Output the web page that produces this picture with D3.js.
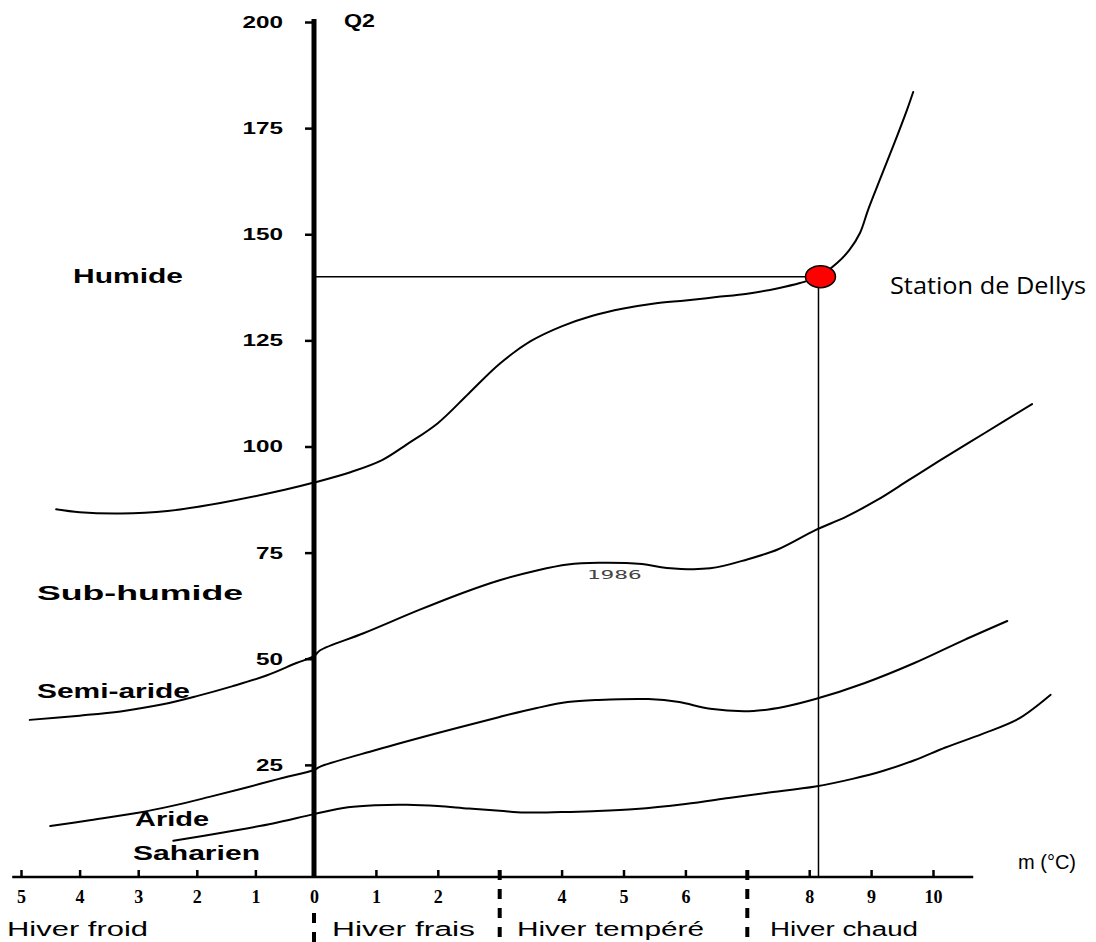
<!DOCTYPE html>
<html>
<head>
<meta charset="utf-8">
<script src="https://cdn.jsdelivr.net/npm/d3@7"></script>
<style>
  html, body { margin: 0; padding: 0; background: #fff; }
  svg { display: block; }
</style>
</head>
<body>
<svg id="chart" width="1096" height="942"></svg>
<script>
// ---------------- DATA ----------------
// Emberger climagram: Q2 (pluviothermic quotient) vs m (°C, mean min of coldest month)
const qTicks = [25, 50, 75, 100, 125, 150, 175, 200];
const mTicks = [-5, -4, -3, -2, -1, 0, 1, 2, 4, 5, 6, 8, 9, 10];
const winterBounds = [0, 3, 7];

// Boundary curves [m, Q2]
const humideLimit = [[-4.4,85.2],[-4,84.5],[-3.3,84.2],[-2.5,84.8],[-1.6,86.7],[-0.5,89.8],[0,91.5],[0.6,94],[1.1,96.8],[1.5,100.5],[2,105.5],[2.5,112.5],[3,119.5],[3.5,124.8],[4,128.3],[4.5,130.8],[5,132.5],[5.5,133.7],[6,134.4],[6.5,135.2],[7,136],[7.5,137.3],[7.85,138.5],[8.15,140],[8.45,143.2],[8.65,146.3],[8.82,150.3],[8.95,155.7],[9.14,162.8],[9.35,170.5],[9.58,179.3],[9.68,183.5]];
const subHumideLimit = [[-4.85,35.6],[-4,36.6],[-3.3,37.6],[-2.6,39.2],[-2,41.2],[-1.4,43.5],[-0.8,46.1],[-0.3,49],[0,50.6],[0.1,52],[0.8,56],[1.7,61.5],[2.4,65.5],[3,68.5],[3.6,70.8],[4.1,72.2],[4.6,72.6],[5.3,72.3],[5.7,71.4],[6.4,71.3],[7,73.4],[7.5,75.8],[8.1,80.3],[8.6,83.5],[9.1,87.4],[9.6,92],[10.1,96.6],[10.85,103.3],[11.6,110]];
const semiArideLimit = [[-4.5,10.6],[-3.8,12],[-3,13.7],[-2.4,15.4],[-1.8,17.4],[-1.2,19.5],[-0.6,21.7],[0,23.8],[0.1,24.6],[1,28.5],[2,32.5],[3,36.3],[3.6,38.4],[4.1,39.8],[4.6,40.3],[5.4,40.5],[5.9,39.8],[6.4,38.2],[7.1,37.7],[7.6,38.7],[8.1,40.5],[8.9,44.3],[9.7,49],[10.5,54.4],[11.2,58.9]];
const arideLimit = [[-2.4,7.1],[-1.5,9.2],[-0.7,11.2],[0,13.4],[0.55,15],[1,15.5],[1.5,15.6],[2,15.3],[2.5,14.7],[3,14.2],[3.4,13.8],[4,13.9],[4.5,14.1],[5.2,14.6],[6,15.8],[6.7,17.2],[7.3,18.4],[8.1,19.9],[8.7,21.7],[9.2,23.6],[9.7,26.1],[10.2,29.1],[10.8,32.3],[11.4,36],[11.9,41.5]];

const zoneNames = ["Humide", "Sub-humide", "Semi-aride", "Aride", "Saharien"];
const winterNames = ["Hiver froid", "Hiver frais", "Hiver tempéré", "Hiver chaud"];
const station = { name: "Station de Dellys", m: 8.15, q2: 140 };
const curveYearLabel = { text: "1986", m: 4.85, q2: 70.5 };

// ---------------- LAYOUT ----------------
const W = 1096, H = 942;
const axisY = 877;
const x = d3.scaleLinear().domain([-5, 0, 10]).range([21, 314, 933]);
const y = d3.scaleLinear().domain([0, 200]).range([871, 22]);

const zoneLayout = [
  { x: 73, y: 283, w: 110 },
  { x: 37, y: 600, w: 206 },
  { x: 37, y: 698, w: 153 },
  { x: 135, y: 826, w: 74 },
  { x: 133, y: 860, w: 127 }
];
const winterLayout = [
  { x: 7, w: 141 },
  { x: 332, w: 143 },
  { x: 517, w: 187 },
  { x: 770, w: 148 }
];

const svg = d3.select("#chart");
svg.append("rect").attr("width", W).attr("height", H).attr("fill", "#fff");

// ---------------- CURVES ----------------
const line = d3.line()
  .x(d => x(d[0]))
  .y(d => y(d[1]))
  .curve(d3.curveCatmullRom.alpha(0.5));

const curves = [humideLimit, subHumideLimit, semiArideLimit, arideLimit];
svg.append("g").selectAll("path").data(curves).join("path")
  .attr("d", line)
  .attr("fill", "none")
  .attr("stroke", "#000")
  .attr("stroke-width", 2)
  .attr("stroke-linejoin", "round")
  .attr("stroke-linecap", "round");

// ---------------- X AXIS ----------------
svg.append("line")
  .attr("x1", x(-5.15)).attr("x2", x(10.65))
  .attr("y1", axisY).attr("y2", axisY)
  .attr("stroke", "#000").attr("stroke-width", 2.5);

const xAxis = d3.axisBottom(x)
  .tickValues(mTicks)
  .tickSizeInner(-7)
  .tickSizeOuter(0)
  .tickPadding(13)
  .tickFormat(d => String(Math.abs(d)));
const gx = svg.append("g").attr("transform", `translate(0,${axisY})`).call(xAxis);
gx.select(".domain").remove();
gx.selectAll(".tick line").attr("stroke", "#000").attr("stroke-width", 2.5);
gx.selectAll(".tick text")
  .attr("font-family", "'Liberation Serif', 'Times New Roman', serif")
  .attr("font-weight", "bold")
  .attr("font-size", 18)
  .attr("fill", "#000");

// dashed winter-type boundaries
svg.append("g").selectAll("line").data(winterBounds).join("line")
  .attr("x1", d => x(d)).attr("x2", d => x(d))
  .attr("y1", d => d === 0 ? 913 : axisY - 7)
  .attr("y2", H)
  .attr("stroke", "#000")
  .attr("stroke-width", 4)
  .attr("stroke-dasharray", "10,9");

// ---------------- Y AXIS ----------------
svg.append("line")
  .attr("x1", x(0)).attr("x2", x(0))
  .attr("y1", y(200) - 3).attr("y2", axisY)
  .attr("stroke", "#000").attr("stroke-width", 5);

const yAxis = d3.axisLeft(y)
  .tickValues(qTicks)
  .tickSize(7)
  .tickPadding(22);
const gy = svg.append("g").attr("transform", `translate(${x(0) - 2},0)`).call(yAxis);
gy.select(".domain").remove();
gy.selectAll(".tick line").attr("stroke", "#000").attr("stroke-width", 2.5);
gy.selectAll(".tick text")
  .attr("font-family", "'Liberation Sans', Arial, sans-serif")
  .attr("font-weight", "bold")
  .attr("font-size", 17)
  .attr("fill", "#000")
  .attr("textLength", d => String(d).length * 13.5)
  .attr("lengthAdjust", "spacingAndGlyphs");

// axis titles
svg.append("text")
  .attr("x", x(0) + 30).attr("y", 27)
  .attr("font-family", "'Liberation Sans', Arial, sans-serif")
  .attr("font-weight", "bold")
  .attr("font-size", 18)
  .attr("textLength", 31).attr("lengthAdjust", "spacingAndGlyphs")
  .text("Q2");

svg.append("text")
  .attr("x", 1018).attr("y", 869)
  .attr("font-family", "'Liberation Sans', Arial, sans-serif")
  .attr("font-size", 20)
  .attr("textLength", 58).attr("lengthAdjust", "spacingAndGlyphs")
  .text("m (°C)");

// ---------------- LABELS ----------------
svg.append("g").selectAll("text").data(zoneNames).join("text")
  .attr("x", (d, i) => zoneLayout[i].x)
  .attr("y", (d, i) => zoneLayout[i].y)
  .attr("font-family", "'Liberation Sans', Arial, sans-serif")
  .attr("font-weight", "bold")
  .attr("font-size", 20)
  .attr("textLength", (d, i) => zoneLayout[i].w)
  .attr("lengthAdjust", "spacingAndGlyphs")
  .text(d => d);

svg.append("g").selectAll("text").data(winterNames).join("text")
  .attr("x", (d, i) => winterLayout[i].x)
  .attr("y", 936)
  .attr("font-family", "'Liberation Sans', Arial, sans-serif")
  .attr("font-size", 20)
  .attr("textLength", (d, i) => winterLayout[i].w)
  .attr("lengthAdjust", "spacingAndGlyphs")
  .text(d => d);

svg.append("text")
  .attr("x", x(curveYearLabel.m)).attr("y", y(curveYearLabel.q2) + 7)
  .attr("text-anchor", "middle")
  .attr("font-family", "'DejaVu Sans Mono', monospace")
  .attr("font-size", 13)
  .attr("fill", "#444")
  .attr("textLength", 55).attr("lengthAdjust", "spacingAndGlyphs")
  .text(curveYearLabel.text);

// ---------------- STATION ----------------
svg.append("line")
  .attr("x1", x(0)).attr("x2", x(station.m))
  .attr("y1", y(station.q2)).attr("y2", y(station.q2))
  .attr("stroke", "#000").attr("stroke-width", 1.5);
svg.append("line")
  .attr("x1", x(station.m)).attr("x2", x(station.m))
  .attr("y1", y(station.q2)).attr("y2", axisY)
  .attr("stroke", "#000").attr("stroke-width", 1.5);
svg.append("ellipse")
  .attr("cx", x(station.m) + 2).attr("cy", y(station.q2))
  .attr("rx", 15).attr("ry", 11)
  .attr("fill", "#ff0000")
  .attr("stroke", "#000").attr("stroke-width", 1.5);
svg.append("text")
  .attr("x", 890).attr("y", 294)
  .attr("font-family", "'Open Sans', 'Noto Sans', sans-serif")
  .attr("font-size", 24)
  .attr("fill", "#000")
  .attr("textLength", 196).attr("lengthAdjust", "spacingAndGlyphs")
  .text(station.name);
</script>
</body>
</html>
